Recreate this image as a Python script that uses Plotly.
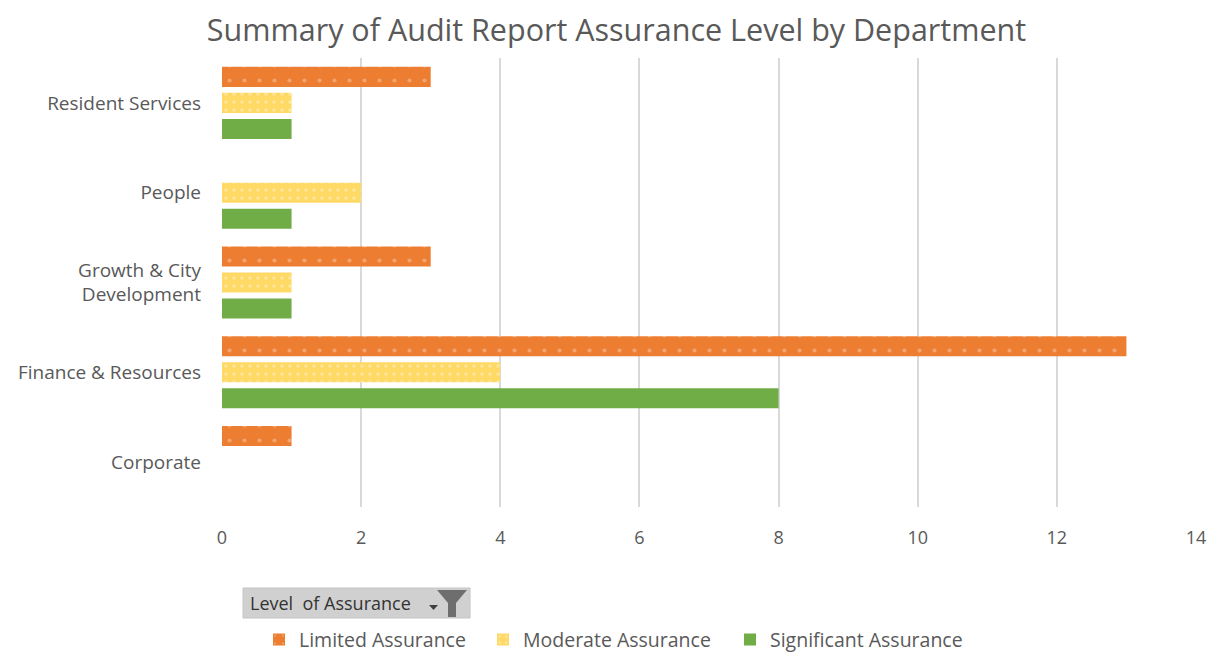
import plotly.graph_objects as go

categories = ["Corporate", "Finance & Resources", "Growth & City<br>Development", "People", "Resident Services"]
limited = [1, 13, 3, 0, 3]
moderate = [0, 4, 1, 2, 1]
significant = [0, 8, 1, 1, 1]
x_ticks = [0, 2, 4, 6, 8, 10, 12, 14]

FONT = "Open Sans"
GRAY = "#595959"

fig = go.Figure()
fig.add_trace(go.Bar(
    y=categories, x=significant, orientation="h", name="Significant Assurance",
    marker=dict(color="#70ad47", line=dict(width=0)), legend="legend3"))
fig.add_trace(go.Bar(
    y=categories, x=moderate, orientation="h", name="Moderate Assurance",
    marker=dict(color="#ffd966", line=dict(width=0),
                pattern=dict(shape=".", fgcolor="#fff2cc", bgcolor="#ffd966", size=8, solidity=0.15)),
    legend="legend2"))
fig.add_trace(go.Bar(
    y=categories, x=limited, orientation="h", name="Limited Assurance",
    marker=dict(color="#ed7d31", line=dict(width=0),
                pattern=dict(shape=".", fgcolor="#f8cbad", bgcolor="#ed7d31", size=15, solidity=0.06)),
    legend="legend"))

leg_common = dict(orientation="h", yref="container", yanchor="middle", y=0.031,
                  xref="container", xanchor="left",
                  font=dict(size=19.5, color=GRAY, family=FONT), itemwidth=30,
                  bgcolor="rgba(0,0,0,0)")

def cx(x):
    return (x - 8) / 1217

# body margin of the page is 8px, so offsets compensate
fig.update_layout(
    width=1217, height=652,
    paper_bgcolor="white", plot_bgcolor="white",
    margin=dict(l=214, r=29, t=50, b=153),
    barmode="group", bargap=0.13, bargroupgap=0.23,
    title=dict(text="Summary of Audit Report Assurance Level by Department",
               x=0.5, xanchor="center", y=0.966, yanchor="middle",
               font=dict(family=FONT, size=30.5, color=GRAY)),
    font=dict(family=FONT, color=GRAY, size=18),
    xaxis=dict(range=[0, 14], tickvals=x_ticks, showgrid=True, gridcolor="#d9d9d9", gridwidth=1.5,
               zeroline=False, showline=False, ticks="", ticklabelstandoff=18,
               automargin=False, tickfont=dict(size=18, color=GRAY)),
    yaxis=dict(range=[-0.5, 4.5], showgrid=False, zeroline=False, showline=False, ticks="",
               ticklabelstandoff=20, automargin=False, tickfont=dict(size=19, color=GRAY)),
    legend=dict(x=cx(259), **leg_common),
    legend2=dict(x=cx(483), **leg_common),
    legend3=dict(x=cx(730), **leg_common),
    showlegend=True,
)

def px(x):
    return (x - 222) / 974
def py(y):
    return (507 - y) / 449

# filter button
fig.add_shape(type="rect", xref="paper", yref="paper",
              x0=px(243), x1=px(470), y0=py(618), y1=py(588),
              fillcolor="#d0d0d0", line=dict(color="#c4c4c4", width=1), layer="above")
fig.add_annotation(text="Level  of Assurance", xref="paper", yref="paper",
                   x=px(248), xanchor="left", y=py(603), yanchor="middle",
                   showarrow=False, font=dict(size=18, color="#333333", family=FONT))
# funnel icon
fig.add_shape(type="path", xref="paper", yref="paper",
              path=f"M {px(437)} {py(590)} L {px(467)} {py(590)} L {px(456)} {py(603)} L {px(456)} {py(617)} L {px(448)} {py(617)} L {px(448)} {py(603)} Z",
              fillcolor="#6e6e6e", line=dict(width=0))
fig.add_shape(type="path", xref="paper", yref="paper",
              path=f"M {px(429)} {py(605)} L {px(438)} {py(605)} L {px(433.5)} {py(610)} Z",
              fillcolor="#404040", line=dict(width=0))

fig.write_html("out.html")
